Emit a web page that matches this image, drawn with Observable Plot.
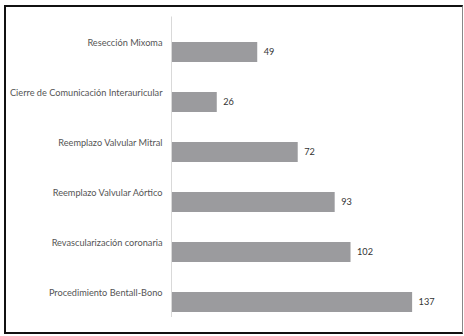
<!DOCTYPE html>
<html>
<head>
<meta charset="utf-8">
<script src="https://cdn.jsdelivr.net/npm/d3@7"></script>
<script src="https://cdn.jsdelivr.net/npm/@observablehq/plot@0.6"></script>
<style>
  html, body { margin: 0; padding: 0; background: #fff; }
  #wrap { position: relative; width: 464px; height: 336px; overflow: hidden; }
  #frame { position: absolute; left: 4px; top: 5px; width: 456px; height: 325px;
           border-left: 2px solid #111; border-top: 2px solid #111; border-bottom: 2px solid #111;
           border-right: 1px solid #888; pointer-events: none; }
  #chart { position: absolute; left: 0; top: 0; }
</style>
</head>
<body>
<div id="wrap"><div id="chart"></div><div id="frame"></div></div>
<script>
const procedures = [
  "Resección Mixoma",
  "Cierre de Comunicación Interauricular",
  "Reemplazo Valvular Mitral",
  "Reemplazo Valvular Aórtico",
  "Revascularización coronaria",
  "Procedimiento Bentall-Bono"
];
const counts = [49, 26, 72, 93, 102, 137];

const data = procedures.map((p, i) => ({procedure: p, count: counts[i]}));

const chart = Plot.plot({
  width: 464,
  height: 336,
  marginLeft: 171,
  marginRight: 11.4,
  marginTop: 26.5,
  marginBottom: 9,
  style: {fontFamily: "Lato, sans-serif", fontSize: "9.2px", background: "transparent"},
  x: {domain: [0, 160], axis: null},
  y: {domain: procedures, paddingInner: 0.6, paddingOuter: 0.3, label: null},
  marks: [
    Plot.barX(data, {x: "count", y: "procedure", fill: "#9b9b9e"}),
    Plot.ruleX([0], {stroke: "#d9d9d9", strokeWidth: 1, dy: -10}),
    Plot.axisY({tickSize: 0, tickPadding: 9, dy: -9, label: null, fill: "#555"}),
    Plot.text(data, {x: "count", y: "procedure", text: d => String(d.count),
                     textAnchor: "start", dx: 6, fill: "#333"})
  ]
});
document.getElementById("chart").appendChild(chart);
</script>
</body>
</html>
